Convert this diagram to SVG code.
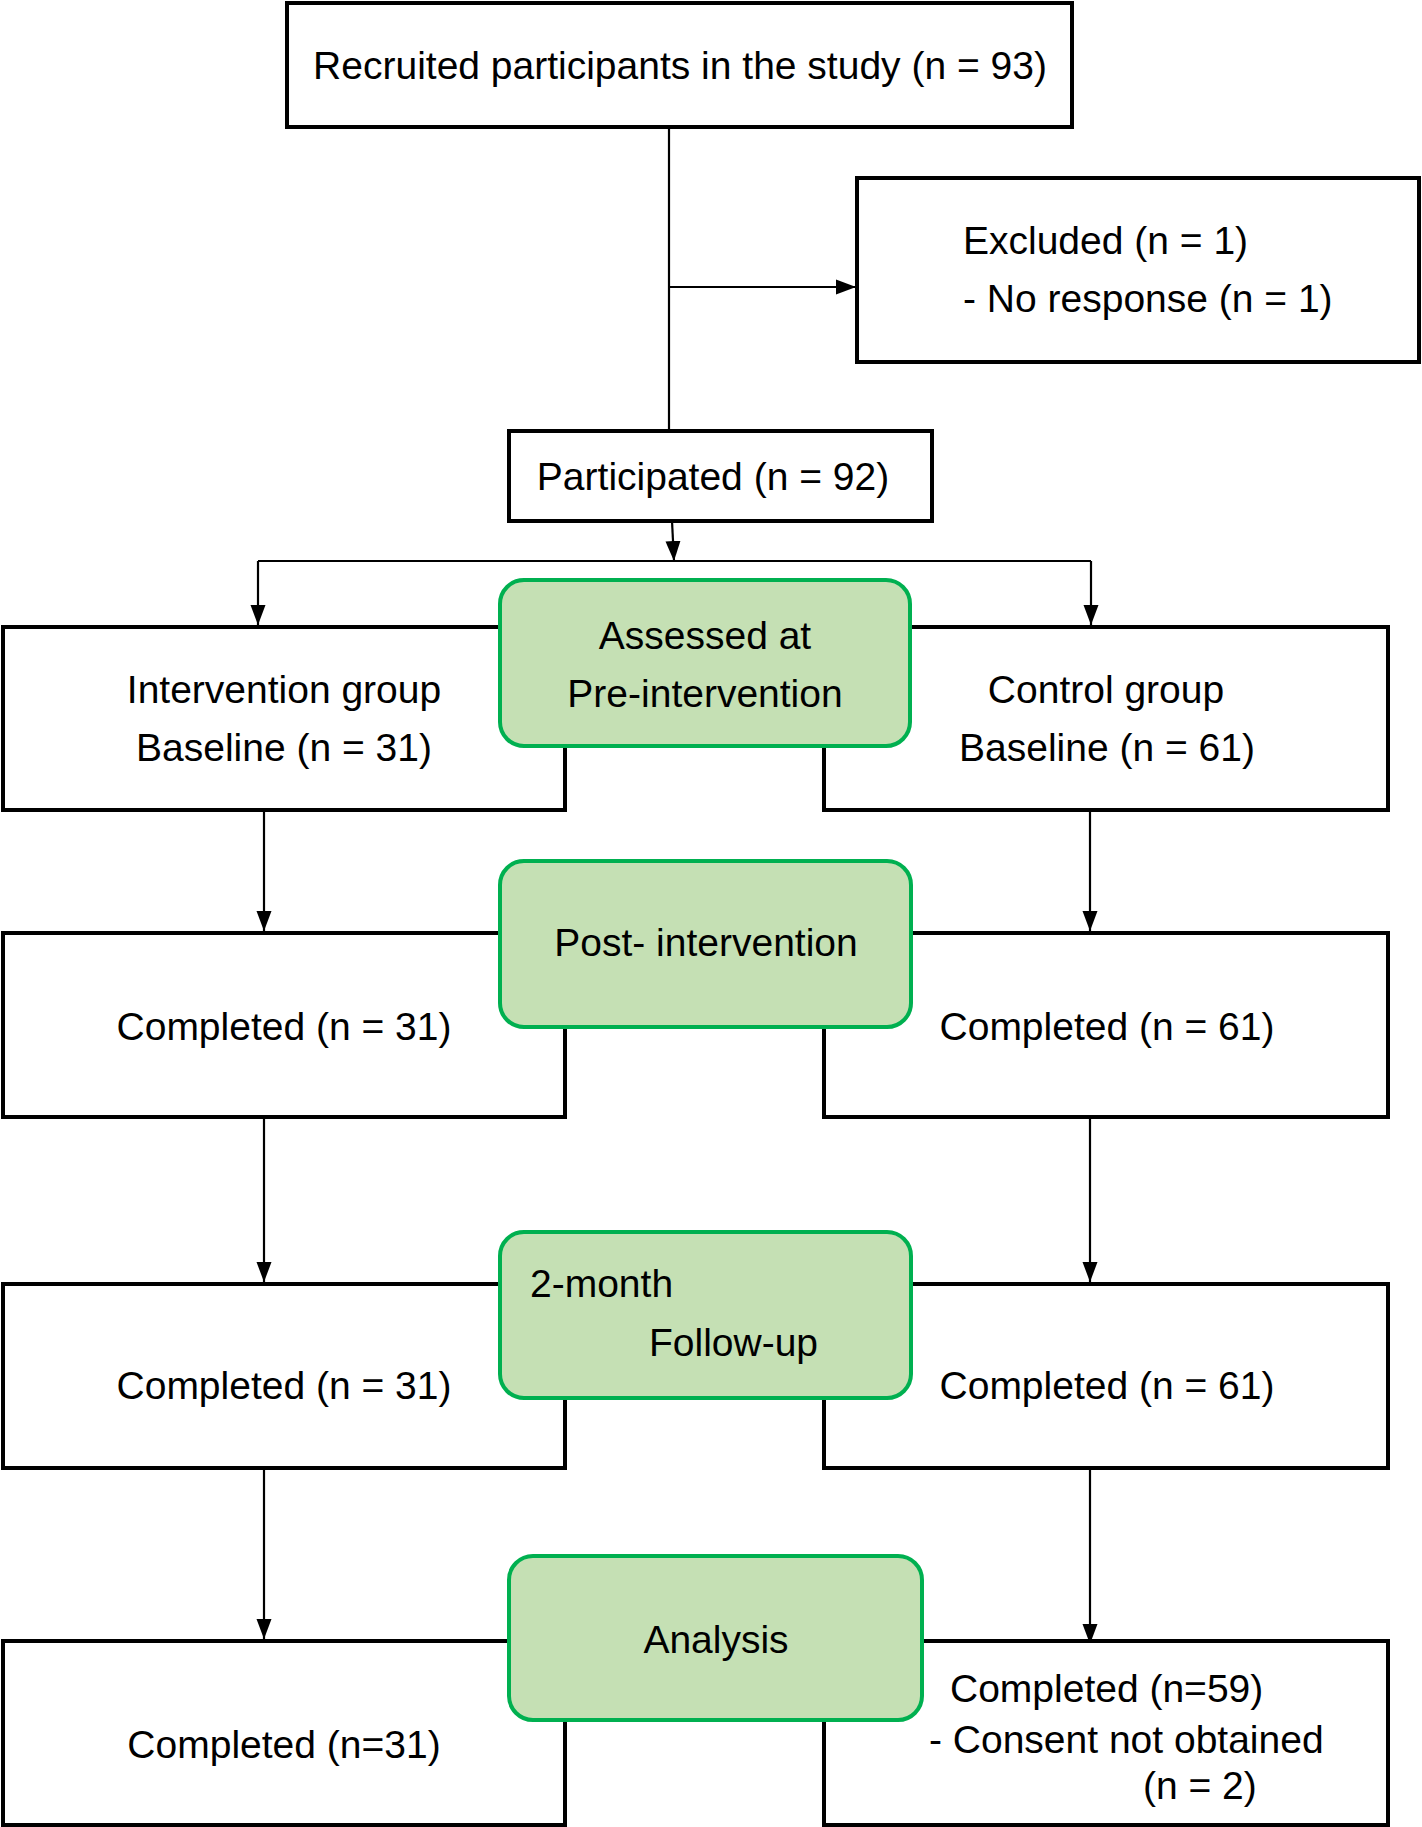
<svg xmlns="http://www.w3.org/2000/svg" width="1422" height="1827" viewBox="0 0 1422 1827">
<style>
.box{fill:#fff;stroke:#000;stroke-width:4}
.phase{fill:#c5e0b4;stroke:#00b050;stroke-width:4}
.t{font-family:"Liberation Sans",Arial,sans-serif;font-size:39px;fill:#000}
.c{text-anchor:middle}
.ln{fill:none;stroke:#000;stroke-width:2.2}
</style>
<defs>
<marker id="ah" markerUnits="userSpaceOnUse" markerWidth="20" markerHeight="20" viewBox="0 0 20 20" refX="20" refY="10" orient="auto">
<path d="M0,2.5 L20,10 L0,17.5 Z" fill="#000"/>
</marker>
</defs>
<g id="connectors">
<path class="ln" d="M669,127 V429"/>
<path class="ln" d="M669,287 H856" marker-end="url(#ah)"/>
<path class="ln" d="M672,521 L674,561" marker-end="url(#ah)"/>
<path class="ln" d="M258,561 H1091"/>
<path class="ln" d="M258,561 V625" marker-end="url(#ah)"/>
<path class="ln" d="M1091,561 V625" marker-end="url(#ah)"/>
<path class="ln" d="M264,810 V931" marker-end="url(#ah)"/>
<path class="ln" d="M1090,810 V931" marker-end="url(#ah)"/>
<path class="ln" d="M264,1117 V1282" marker-end="url(#ah)"/>
<path class="ln" d="M1090,1117 V1282" marker-end="url(#ah)"/>
<path class="ln" d="M264,1468 V1639" marker-end="url(#ah)"/>
<path class="ln" d="M1090,1468 V1644" marker-end="url(#ah)"/>
</g>
<g id="recruited">
<rect class="box" x="287" y="3" width="785" height="124"/>
<text class="t c" x="680" y="79">Recruited participants in the study (n = 93)</text>
</g>
<g id="excluded">
<rect class="box" x="857" y="178" width="562" height="184"/>
<text class="t" x="963" y="254">Excluded (n = 1)</text>
<text class="t" x="963" y="312">- No response (n = 1)</text>
</g>
<g id="participated">
<rect class="box" x="509" y="431" width="423" height="90"/>
<text class="t c" x="713" y="490">Participated (n = 92)</text>
</g>
<g id="intervention-baseline">
<rect class="box" x="3" y="627" width="562" height="183"/>
<text class="t c" x="284" y="703">Intervention group</text>
<text class="t c" x="284" y="761">Baseline (n = 31)</text>
</g>
<g id="control-baseline">
<rect class="box" x="824" y="627" width="564" height="183"/>
<text class="t c" x="1106" y="703">Control group</text>
<text class="t c" x="1107" y="761">Baseline (n = 61)</text>
</g>
<g id="pre-intervention">
<rect class="phase" x="500" y="580" width="410" height="166" rx="24"/>
<text class="t c" x="705" y="649">Assessed at</text>
<text class="t c" x="705" y="707">Pre-intervention</text>
</g>
<g id="intervention-post">
<rect class="box" x="3" y="933" width="562" height="184"/>
<text class="t c" x="284" y="1040">Completed (n = 31)</text>
</g>
<g id="control-post">
<rect class="box" x="824" y="933" width="564" height="184"/>
<text class="t c" x="1107" y="1040">Completed (n = 61)</text>
</g>
<g id="post-intervention">
<rect class="phase" x="500" y="861" width="411" height="166" rx="24"/>
<text class="t c" x="706" y="956">Post- intervention</text>
</g>
<g id="intervention-followup">
<rect class="box" x="3" y="1284" width="562" height="184"/>
<text class="t c" x="284" y="1399">Completed (n = 31)</text>
</g>
<g id="control-followup">
<rect class="box" x="824" y="1284" width="564" height="184"/>
<text class="t c" x="1107" y="1399">Completed (n = 61)</text>
</g>
<g id="followup">
<rect class="phase" x="500" y="1232" width="411" height="166" rx="24"/>
<text class="t" x="530" y="1297">2-month</text>
<text class="t" x="649" y="1356">Follow-up</text>
</g>
<g id="intervention-analysis">
<rect class="box" x="3" y="1641" width="562" height="184"/>
<text class="t c" x="284" y="1758">Completed (n=31)</text>
</g>
<g id="control-analysis">
<rect class="box" x="824" y="1641" width="564" height="184"/>
<text class="t" x="950" y="1702">Completed (n=59)</text>
<text class="t" x="929" y="1753">- Consent not obtained</text>
<text class="t" x="1143" y="1799">(n = 2)</text>
</g>
<g id="analysis">
<rect class="phase" x="509" y="1556" width="413" height="164" rx="24"/>
<text class="t c" x="716" y="1653">Analysis</text>
</g>
</svg>
